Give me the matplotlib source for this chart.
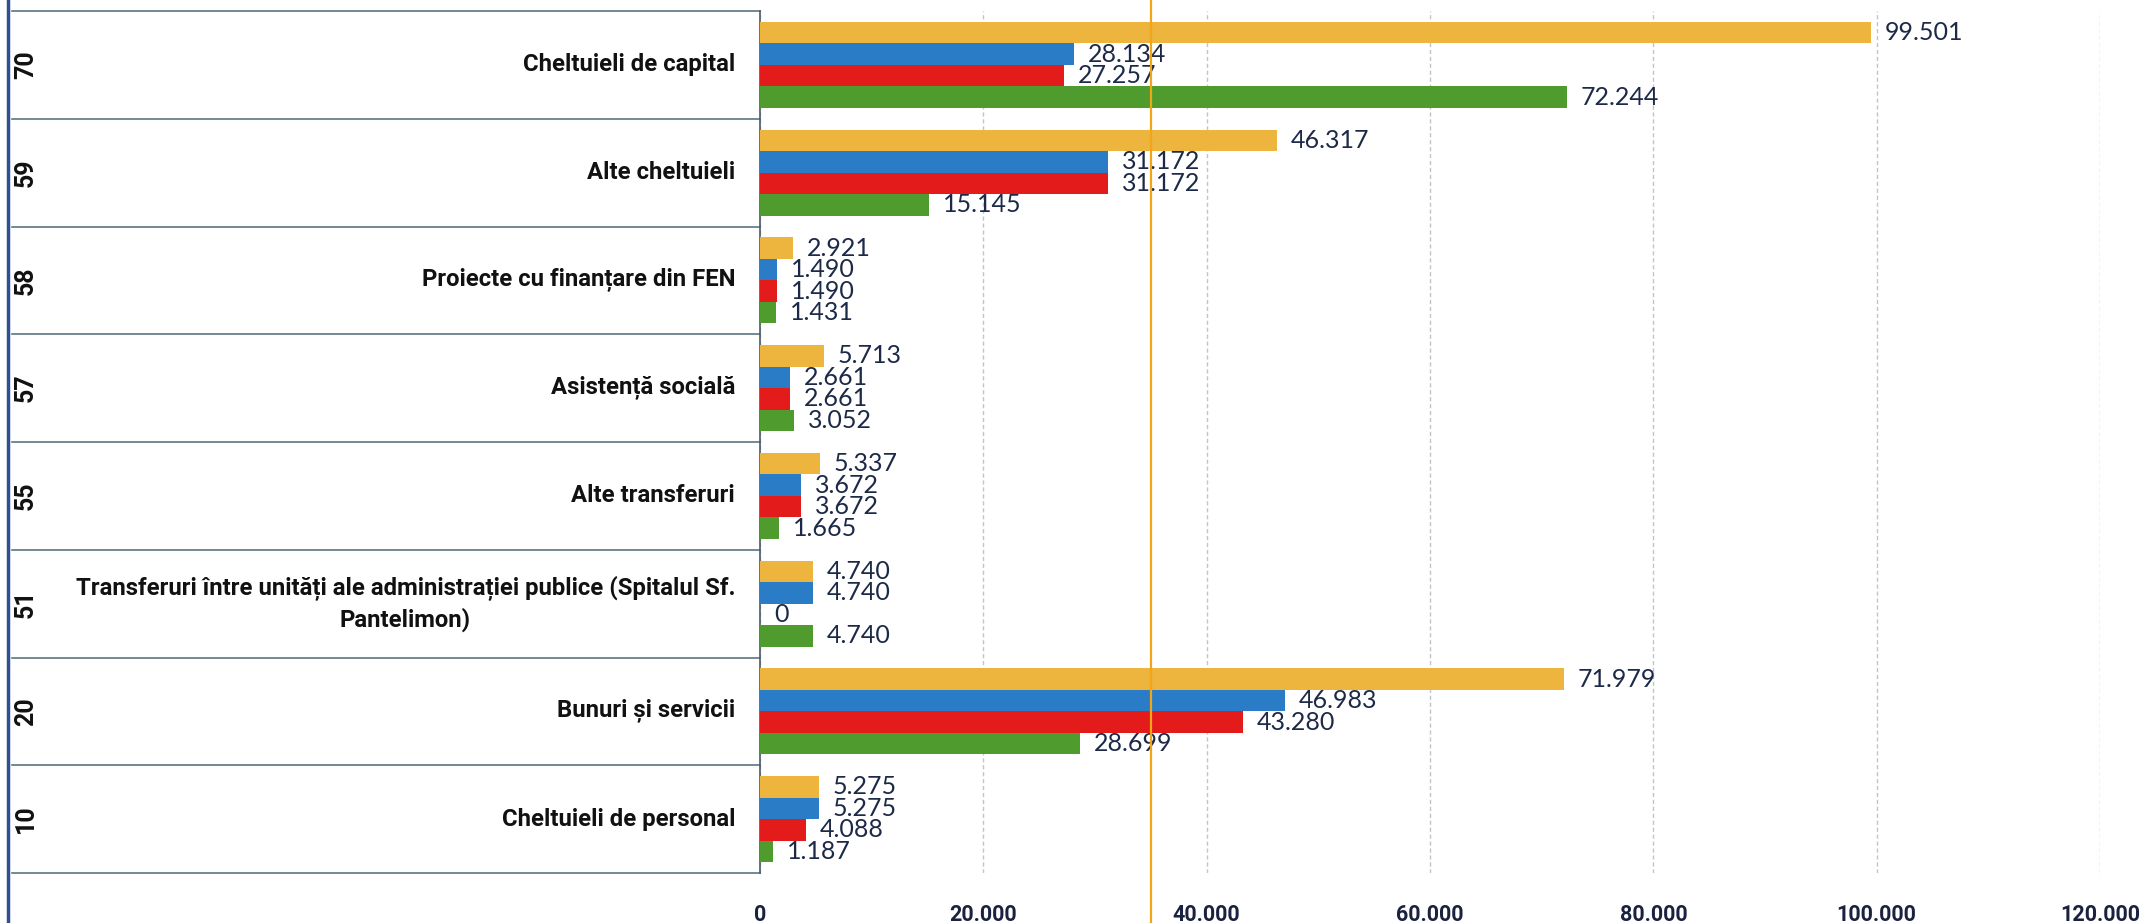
import matplotlib
matplotlib.use("Agg")
import matplotlib.pyplot as plt
import matplotlib.transforms as mtransforms
import numpy as np

plt.rcParams['font.family'] = ['Lato', 'DejaVu Sans']
BOLD_FAMILY = ['Roboto', 'DejaVu Sans']

# ---------------- data ----------------
codes = ["70", "59", "58", "57", "55", "51", "20", "10"]
categories = [
    "Cheltuieli de capital",
    "Alte cheltuieli",
    "Proiecte cu finanțare din FEN",
    "Asistență socială",
    "Alte transferuri",
    "Transferuri între unități ale administrației publice (Spitalul Sf.\nPantelimon)",
    "Bunuri și servicii",
    "Cheltuieli de personal",
]
serie_galben = [99501, 46317, 2921, 5713, 5337, 4740, 71979, 5275]
serie_albastru = [28134, 31172, 1490, 2661, 3672, 4740, 46983, 5275]
serie_rosu = [27257, 31172, 1490, 2661, 3672, 0, 43280, 4088]
serie_verde = [72244, 15145, 1431, 3052, 1665, 4740, 28699, 1187]
x_ticks = [0, 20000, 40000, 60000, 80000, 100000, 120000]
ref_line = 35000

series = [serie_galben, serie_albastru, serie_rosu, serie_verde]
colors = ["#EDB43E", "#2A7CC6", "#E31B1B", "#4F9B2E"]


def fmt(v):
    return f"{int(v):,}".replace(",", ".")


# ---------------- figure ----------------
W, H = 2147, 923
fig = plt.figure(figsize=(W / 100, H / 100), dpi=100)
fig.patch.set_facecolor("white")

ax_left, ax_right = 760, 2100
ax_top, ax_bottom = 11, 873
ax = fig.add_axes([ax_left / W, 1 - ax_bottom / H,
                   (ax_right - ax_left) / W, (ax_bottom - ax_top) / H])

n = len(categories)
y = np.arange(n)
bh = 0.2
offsets = [-0.3, -0.1, 0.1, 0.3]
for vals, col, off in zip(series, colors, offsets):
    bars = ax.barh(y + off, vals, height=bh, color=col, edgecolor="none", zorder=3)
    ax.bar_label(bars, labels=[fmt(v) for v in vals], padding=10,
                 fontsize=18, color="#1C2A48", zorder=4)

ax.set_ylim(n - 0.5, -0.5)
ax.set_xlim(0, 120000)
ax.set_yticks([])
ax.set_xticks(x_ticks)
ax.set_xticklabels([fmt(t) for t in x_ticks], fontsize=15.5,
                   fontweight="bold", color="#1A2240", family=BOLD_FAMILY)
ax.tick_params(axis="x", length=0, pad=22)
ax.grid(axis="x", color="#BCC6CC", linestyle=(0, (3, 2)), linewidth=1, zorder=0)
for s in ["top", "right", "bottom"]:
    ax.spines[s].set_visible(False)
ax.spines["left"].set_color("#4A5A66")
ax.spines["left"].set_linewidth(1.2)

# reference orange line
ax.axvline(ref_line, ymin=-(H - ax_bottom) / (ax_bottom - ax_top),
           ymax=1 + ax_top / (ax_bottom - ax_top), color="#F2A516",
           linewidth=1.6, clip_on=False, zorder=5)

# left table
trans = mtransforms.blended_transform_factory(fig.transFigure, ax.transData)
for b in np.arange(-0.5, n + 0.5, 1.0):
    ax.plot([12 / W, ax_left / W], [b, b], transform=trans, color="#5A7480",
            linewidth=1.2, clip_on=False, zorder=2)
for i in range(n):
    ax.text(26 / W, y[i], codes[i], transform=trans, rotation=90, ha="center",
            va="center", fontsize=18, fontweight="bold", color="#111111",
            family=BOLD_FAMILY)
    ax.text(735 / W, y[i], categories[i], transform=trans, ha="right",
            va="center", multialignment="center", fontsize=17.2,
            fontweight="bold", color="#111111", linespacing=1.35,
            family=BOLD_FAMILY)

# blue left border line
fig.add_artist(plt.Line2D([8 / W, 8 / W], [0, 1], transform=fig.transFigure,
                          color="#2F4F8F", linewidth=2.5))

fig.savefig("out.png", dpi=100, facecolor="white")
